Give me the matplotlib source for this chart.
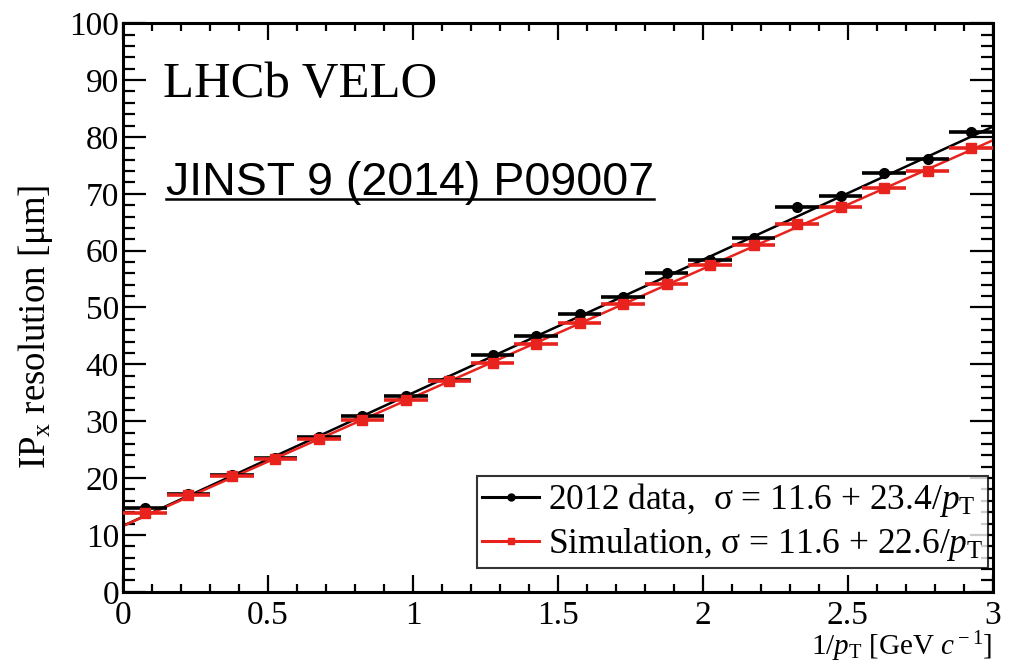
import numpy as np
import matplotlib.pyplot as plt
from matplotlib.ticker import MultipleLocator

# bin centres in 1/pT [GeV/c]^-1, bin width 0.15
inv_pt = np.arange(0.075, 3.0, 0.15)
bin_half = 0.075

data_res = [14.8, 17.2, 20.5, 23.6, 27.2, 30.9, 34.5, 37.3, 41.6, 45.0,
            48.8, 51.8, 56.0, 58.3, 62.3, 67.6, 69.6, 73.6, 76.2, 80.8]
sim_res = [13.9, 17.0, 20.3, 23.4, 26.8, 30.2, 33.8, 37.0, 40.2, 43.6,
           47.2, 50.6, 54.2, 57.5, 61.0, 64.6, 67.6, 71.0, 74.0, 78.0]

# fit parameters  sigma = a + b / pT
data_fit = (11.6, 23.4)
sim_fit = (11.6, 22.6)

red = '#e8231e'

plt.rcParams['font.family'] = ['Liberation Serif', 'DejaVu Serif']
plt.rcParams['mathtext.fontset'] = 'custom'
plt.rcParams['mathtext.rm'] = 'Liberation Serif'
plt.rcParams['mathtext.it'] = 'Liberation Serif:italic'

fig = plt.figure(figsize=(10.09, 6.62), dpi=100)
ax = fig.add_axes([0.122, 0.106, 0.862, 0.859])

xf = np.linspace(0, 3, 50)
ax.errorbar(inv_pt, data_res, xerr=bin_half, yerr=0.4, fmt='o', color='black',
            ms=7, lw=2.6, capsize=0, zorder=3)
ax.plot(xf, data_fit[0] + data_fit[1] * xf, color='black', lw=1.8, zorder=2)
ax.errorbar(inv_pt, sim_res, xerr=bin_half, yerr=0.4, fmt='s', color=red,
            ms=7, lw=2.6, capsize=0, zorder=4)
ax.plot(xf, sim_fit[0] + sim_fit[1] * xf, color=red, lw=1.8, zorder=2)

# legend handles
h_data, = ax.plot([], [], '-o', color='black', ms=5, lw=2.2)
h_sim, = ax.plot([], [], '-s', color=red, ms=5, lw=2.2)
leg = ax.legend([h_data, h_sim],
                ['2012 data,  \u03c3 = 11.6 + 23.4/$p_{\\rm T}$',
                 'Simulation, \u03c3 = 11.6 + 22.6/$p_{\\rm T}$'],
                loc='lower right', bbox_to_anchor=(0.999, 0.035), fontsize=25.5,
                frameon=True, fancybox=False, edgecolor='black',
                handlelength=1.6, handletextpad=0.25, borderpad=0.15,
                labelspacing=0.2, borderaxespad=0.1)
leg.get_frame().set_linewidth(1.5)

ax.set_xlim(0, 3)
ax.set_ylim(0, 100)
ax.xaxis.set_minor_locator(MultipleLocator(0.1))
ax.yaxis.set_major_locator(MultipleLocator(10))
ax.yaxis.set_minor_locator(MultipleLocator(2))
ax.set_xticks([0, 0.5, 1, 1.5, 2, 2.5, 3], ['0', '0.5', '1', '1.5', '2', '2.5', '3'])
ax.tick_params(which='both', direction='in', top=True, right=True, width=1.6,
               labelsize=24)
ax.tick_params(axis='y', which='major', length=16.5, pad=3)
ax.tick_params(axis='y', which='minor', length=8.5)
ax.tick_params(axis='x', which='major', length=12, pad=6)
ax.tick_params(axis='x', which='minor', length=6)
for s in ax.spines.values():
    s.set_linewidth(2.2)

ax.set_ylabel('IP$_{\\rm x}$ resolution [\u03bcm]', fontsize=26.5)
ax.yaxis.set_label_coords(-0.078, 0.466)
ax.set_xlabel('1/$p_{\\rm T}$ [GeV $c^{\\rm -1}$]', fontsize=21)
ax.xaxis.set_label_coords(1.0, -0.066)
ax.xaxis.label.set_horizontalalignment('right')

ax.text(0.046, 0.87, 'LHCb VELO', transform=ax.transAxes, fontsize=36.5,
        ha='left', va='baseline')
jinst = ax.text(0.049, 0.698, 'JINST 9 (2014) P09007', transform=ax.transAxes,
                fontsize=33.5, family=['Liberation Sans', 'DejaVu Sans'],
                ha='left', va='baseline')

# underline the reference text over its own width
fig.canvas.draw()
bb = jinst.get_window_extent().transformed(ax.transAxes.inverted())
ax.plot([bb.x0, bb.x1], [0.69, 0.69], transform=ax.transAxes, color='black',
        lw=1.8, clip_on=False)

fig.savefig('out.png', dpi=100)
